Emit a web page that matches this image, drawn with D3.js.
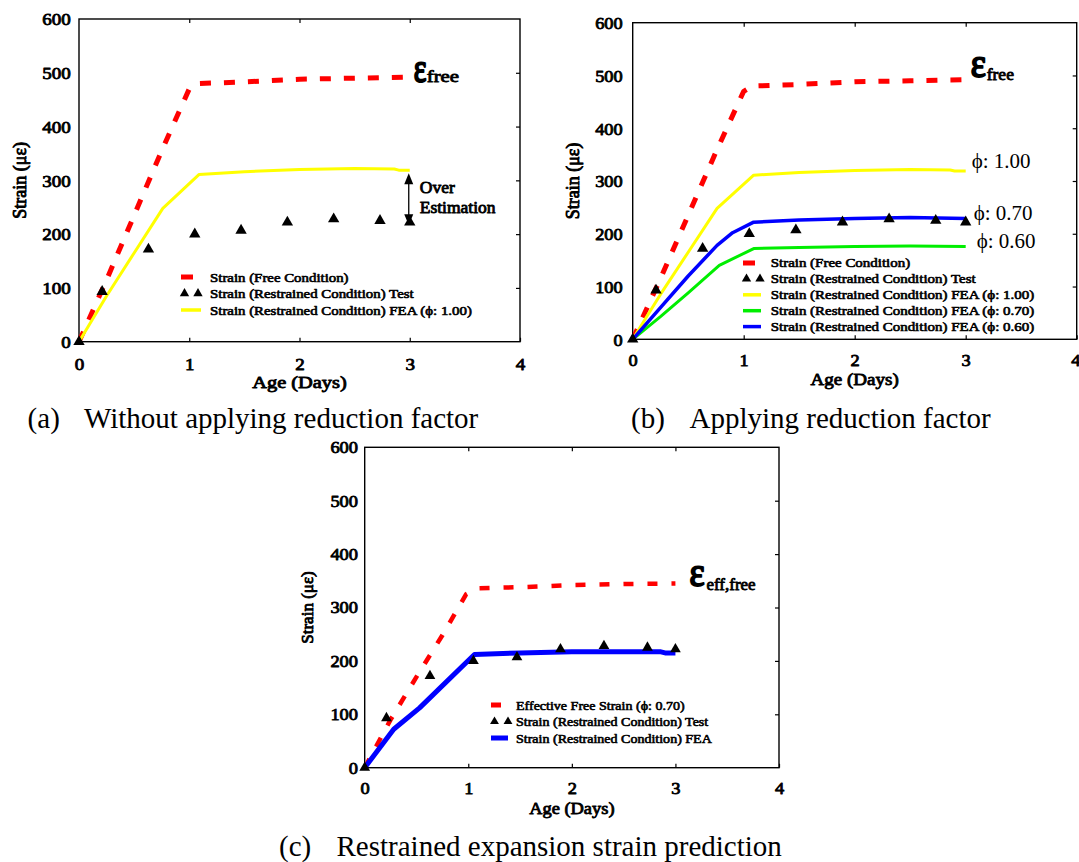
<!DOCTYPE html>
<html>
<head>
<meta charset="utf-8">
<script src="https://cdn.jsdelivr.net/npm/d3@7"></script>
<style>
  body { margin: 0; background: #fff; }
  svg { display: block; }
  text { font-family: "Liberation Serif", "Times New Roman", serif; fill: #000; font-weight: normal; }
</style>
</head>
<body>
<svg id="fig" width="1079" height="862"></svg>
<script>
// ---- axis ticks ----
const ageTicks = [0, 1, 2, 3, 4];
const strainTicks = [0, 100, 200, 300, 400, 500, 600];

// ---- measured restrained strain (test) ----
const testAge    = [0, 0.21, 0.63, 1.05, 1.47, 1.89, 2.31, 2.73, 3.0];
const testStrain = [0, 93, 172, 200, 207, 222, 228, 225, 222];

// ---- free expansion strain ----
const freeAge    = [0, 0.25, 0.5, 0.75, 1.0, 1.08, 1.5, 2, 2.5, 3];
const freeStrain = [0, 115, 235, 355, 470, 480, 483, 488, 490, 492];

// ---- FEA restrained strain, phi = 1.00 ----
const fea100Age    = [0, 0.25, 0.5, 0.76, 1.09, 1.5, 2, 2.5, 2.86, 2.9, 3];
const fea100Strain = [0, 85, 165, 248, 311, 316, 320, 322, 321, 319, 319];

// ---- FEA restrained strain, phi = 0.70 (green) ----
const fea070Age    = [0, 0.25, 0.5, 0.78, 1.09, 1.5, 2, 2.5, 3];
const fea070Strain = [0, 43, 88, 140, 172, 174, 176, 177, 176];

// ---- FEA restrained strain, phi = 0.60 (blue) ----
const fea060Age    = [0, 0.25, 0.5, 0.76, 0.9, 1.09, 1.5, 2, 2.5, 3];
const fea060Strain = [0, 60, 120, 178, 202, 222, 226, 229, 231, 229];

// ---- effective free strain (phi = 0.70) and matching FEA ----
const effFreeAge    = [0, 0.25, 0.5, 0.75, 0.98, 1.08, 1.5, 2, 2.5, 3];
const effFreeStrain = [0, 90, 170, 248, 325, 336, 338, 342, 344, 345];
const feaEffAge     = [0, 0.28, 0.53, 1.06, 1.5, 2, 2.5, 2.86, 2.9, 3];
const feaEffStrain  = [0, 72, 112, 212, 215, 217, 217, 217, 215, 215];

const RED = "#ff0000", YELLOW = "#ffff00", GREEN = "#00ee00", BLUE = "#0000ff";

const svg = d3.select("#fig");

// heavy serif text: regular face thickened with an outline stroke
function embolden(sel, size) {
  return sel.attr("stroke", "#000").attr("stroke-width", Math.max(0.4, size * 0.05))
    .attr("stroke-linejoin", "round");
}

// text helper: horizontally stretchable label
function label(g, x, y, str, o) {
  const t = g.append("text")
    .attr("transform", `translate(${x},${y}) scale(${o.k || 1},1)`)
    .attr("font-size", o.size)
    .attr("text-anchor", o.anchor || "start")
    .text(str);
  if (o.bold !== false) embolden(t, o.size);
  return t;
}

function makePanel(box, st) {
  const g = svg.append("g");
  const x = d3.scaleLinear().domain([0, 4]).range([box.left, box.right]);
  const y = d3.scaleLinear().domain([0, 600]).range([box.bottom, box.top]);

  // bottom axis: inward ticks + labels
  const bx = g.append("g").attr("transform", `translate(0,${box.bottom})`)
    .call(d3.axisBottom(x).tickValues(ageTicks).tickSize(-4).tickPadding(0).tickFormat(d3.format("d")));
  bx.select(".domain").remove();
  bx.selectAll("line").attr("stroke", "#000").attr("stroke-width", 1.2);
  embolden(bx.selectAll("text").attr("dy", null).attr("y", st.xBase)
    .attr("font-size", st.tick)
    .attr("font-family", '"Liberation Serif", serif')
    .attr("text-anchor", d => (d === 4 && st.clipLast) ? "end" : "middle")
    .attr("x", d => (d === 4 && st.clipLast) ? 3 : 0)
    .attr("transform", `scale(${st.tickK},1)`), st.tick);

  // top axis ticks
  const tx = g.append("g").attr("transform", `translate(0,${box.top})`)
    .call(d3.axisTop(x).tickValues([1, 2, 3]).tickSize(-4).tickFormat(""));
  tx.select(".domain").remove();
  tx.selectAll("line").attr("stroke", "#000").attr("stroke-width", 1.2);

  // right axis ticks
  const rx = g.append("g").attr("transform", `translate(${box.right},0)`)
    .call(d3.axisRight(y).tickValues([100, 200, 300, 400, 500]).tickSize(-4).tickFormat(""));
  rx.select(".domain").remove();
  rx.selectAll("line").attr("stroke", "#000").attr("stroke-width", 1.2);

  // left axis labels
  const lx = g.append("g").attr("transform", `translate(${box.left},0)`)
    .call(d3.axisLeft(y).tickValues(strainTicks).tickSize(0).tickPadding(0));
  lx.select(".domain").remove();
  embolden(lx.selectAll("text").attr("x", -st.yPad / st.tickK).attr("dy", "0.34em")
    .attr("font-size", st.tick)
    .attr("font-family", '"Liberation Serif", serif')
    .attr("transform", `scale(${st.tickK},1)`), st.tick);

  // frame
  g.append("rect").attr("x", box.left).attr("y", box.top)
    .attr("width", box.right - box.left).attr("height", box.bottom - box.top)
    .attr("fill", "none").attr("stroke", "#000").attr("stroke-width", 1.4);

  // axis titles
  label(g, (box.left + box.right) / 2, st.ageBase, "Age  (Days)", { size: st.title, k: st.titleK, anchor: "middle" });
  embolden(g.append("text")
    .attr("transform", `translate(${st.strainX},${(box.top + box.bottom) / 2}) rotate(-90)`)
    .attr("text-anchor", "middle").attr("dy", "0.35em")
    .attr("font-size", st.ytitle)
    .text("Strain (με)"), st.ytitle);

  return { g, x, y };
}

function drawLine(p, ages, vals, color, width, dash) {
  const line = d3.line().x(d => p.x(d[0])).y(d => p.y(d[1]));
  p.g.append("path").datum(d3.zip(ages, vals))
    .attr("d", line).attr("fill", "none")
    .attr("stroke", color).attr("stroke-width", width)
    .attr("stroke-linejoin", "round")
    .attr("stroke-dasharray", dash || null);
}

const tri = d3.symbol().type(d3.symbolTriangle);

function drawTest(p, size) {
  p.g.selectAll(null).data(d3.zip(testAge, testStrain)).join("path")
    .attr("d", tri.size(size)())
    .attr("transform", d => `translate(${p.x(d[0])},${p.y(d[1])})`)
    .attr("fill", "#000");
}

function legend(p, items, lg) {
  items.forEach((it, i) => {
    const cy = lg.y + i * lg.dy;
    if (it.kind === "tri") {
      [lg.x + 3.5, lg.x + 17].forEach(cx =>
        p.g.append("path").attr("d", tri.size(lg.triSize)())
          .attr("transform", `translate(${cx},${cy})`).attr("fill", "#000"));
    } else {
      p.g.append("rect").attr("x", lg.x).attr("y", cy - it.h / 2)
        .attr("width", it.w).attr("height", it.h).attr("fill", it.color);
    }
    label(p.g, lg.tx, cy + lg.base, it.text, { size: lg.size, k: lg.k });
  });
}

// ================= (a) =================
const pa = makePanel({ left: 79, right: 520, top: 19, bottom: 341.7 },
  { tick: 17, tickK: 1.12, xBase: 28.3, yPad: 8.3, title: 17, titleK: 1.2, ageBase: 388, strainX: 20, ytitle: 18 });
drawLine(pa, freeAge, freeStrain, RED, 5, "11,13");
drawLine(pa, fea100Age, fea100Strain, YELLOW, 3);
drawTest(pa, 56);
legend(pa, [
  { kind: "bar", color: RED, w: 12, h: 5, text: "Strain (Free Condition)" },
  { kind: "tri", text: "Strain (Restrained Condition) Test" },
  { kind: "bar", color: YELLOW, w: 20, h: 3.5, text: "Strain (Restrained Condition) FEA (ϕ: 1.00)" }
], { x: 181, y: 277, dy: 16.5, tx: 210, base: 4.5, size: 13.5, k: 1.1, triSize: 38 });

// over-estimation arrow between FEA and test at day 3
{
  const ax = pa.x(3) - 1;
  const yTop = pa.y(fea100Strain[fea100Strain.length - 1]) + 3;
  const yBot = pa.y(testStrain[testStrain.length - 1]) + 3;
  pa.g.append("line").attr("x1", ax).attr("x2", ax).attr("y1", yTop + 8).attr("y2", yBot - 8)
    .attr("stroke", "#000").attr("stroke-width", 1.3);
  pa.g.append("path").attr("d", `M${ax},${yTop} L${ax - 4.5},${yTop + 11} L${ax + 4.5},${yTop + 11} Z`).attr("fill", "#000");
  pa.g.append("path").attr("d", `M${ax},${yBot} L${ax - 4.5},${yBot - 11} L${ax + 4.5},${yBot - 11} Z`).attr("fill", "#000");
  label(pa.g, pa.x(3) + 10, 193, "Over", { size: 17.5 });
  label(pa.g, pa.x(3) + 10, 213, "Estimation", { size: 17.5 });
}
{
  const ey = pa.y(freeStrain[freeStrain.length - 1]);
  label(pa.g, pa.x(3) + 4, ey + 4.5, "ε", { size: 42, k: 0.72 });
  label(pa.g, pa.x(3) + 17, ey + 5, "free", { size: 16, k: 1.3 });
}

// ================= (b) =================
const pb = makePanel({ left: 632.7, right: 1076.7, top: 22.7, bottom: 339.3 },
  { tick: 17, tickK: 1.08, xBase: 26.7, yPad: 10, title: 17, titleK: 1.12, ageBase: 385, strainX: 572.5, ytitle: 18, clipLast: true });
drawLine(pb, freeAge, freeStrain, RED, 5, "11,13");
drawLine(pb, fea100Age, fea100Strain, YELLOW, 3);
drawLine(pb, fea070Age, fea070Strain, GREEN, 3);
drawLine(pb, fea060Age, fea060Strain, BLUE, 3.5);
drawTest(pb, 56);
legend(pb, [
  { kind: "bar", color: RED, w: 12, h: 5, text: "Strain (Free Condition)" },
  { kind: "tri", text: "Strain (Restrained Condition) Test" },
  { kind: "bar", color: YELLOW, w: 18, h: 3.5, text: "Strain (Restrained Condition) FEA (ϕ: 1.00)" },
  { kind: "bar", color: GREEN, w: 18, h: 3.5, text: "Strain (Restrained Condition) FEA (ϕ: 0.70)" },
  { kind: "bar", color: BLUE, w: 18, h: 3.5, text: "Strain (Restrained Condition) FEA (ϕ: 0.60)" }
], { x: 743, y: 263, dy: 15.9, tx: 770.7, base: 4, size: 13, k: 1.15, triSize: 38 });
{
  const x3 = pb.x(3);
  const ey = pb.y(freeStrain[freeStrain.length - 1]);
  label(pb.g, x3 + 5, ey - 2.5, "ε", { size: 40, k: 0.9 });
  label(pb.g, x3 + 21, ey, "free", { size: 17, k: 1.03 });
  label(pb.g, x3 + 6, pb.y(fea100Strain[fea100Strain.length - 1]) - 3, "ϕ: 1.00", { size: 20, k: 1.05, bold: false });
  label(pb.g, x3 + 8, pb.y(fea060Strain[fea060Strain.length - 1]) + 1.5, "ϕ: 0.70", { size: 20, k: 1.05, bold: false });
  label(pb.g, x3 + 11, pb.y(fea070Strain[fea070Strain.length - 1]) + 2, "ϕ: 0.60", { size: 20, k: 1.05, bold: false });
}

// ================= (c) =================
const pc = makePanel({ left: 364.7, right: 779, top: 447.3, bottom: 767.7 },
  { tick: 16, tickK: 1.15, xBase: 26, yPad: 6.7, title: 16, titleK: 1.15, ageBase: 814, strainX: 307.5, ytitle: 17 });
drawLine(pc, effFreeAge, effFreeStrain, RED, 4.5, "10,14");
drawLine(pc, feaEffAge, feaEffStrain, BLUE, 5);
drawTest(pc, 50);
legend(pc, [
  { kind: "bar", color: RED, w: 10, h: 5, text: "Effective Free Strain (ϕ: 0.70)" },
  { kind: "tri", text: "Strain (Restrained Condition) Test" },
  { kind: "bar", color: BLUE, w: 17, h: 5, text: "Strain (Restrained Condition) FEA" }
], { x: 491, y: 705, dy: 16.5, tx: 516, base: 4.5, size: 11.5, k: 1.22, triSize: 34 });
{
  const x3 = pc.x(3);
  const ey = pc.y(effFreeStrain[effFreeStrain.length - 1]);
  label(pc.g, x3 + 14, ey + 3, "ε", { size: 40, k: 0.9 });
  label(pc.g, x3 + 31, ey + 6.5, "eff,free", { size: 17, k: 1 });
}

// ================= captions =================
const cap = svg.append("g");
[
  { x: 27.6, lx: 84, y: 428, tag: "(a)", text: "Without applying reduction factor" },
  { x: 631, lx: 689.5, y: 428, tag: "(b)", text: "Applying reduction factor" },
  { x: 279, lx: 336.5, y: 856, tag: "(c)", text: "Restrained expansion strain prediction" }
].forEach(c => {
  label(cap, c.x, c.y, c.tag, { size: 29, bold: false });
  label(cap, c.lx, c.y, c.text, { size: 29, bold: false });
});
</script>
</body>
</html>
